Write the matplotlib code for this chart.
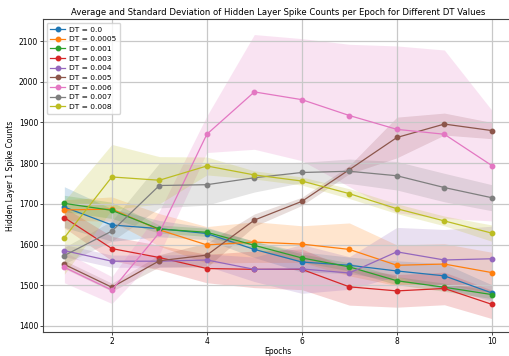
import matplotlib
matplotlib.use("Agg")
import matplotlib.pyplot as plt
import numpy as np

epochs = np.arange(1, 11)
dt_labels = ["0.0", "0.0005", "0.001", "0.003", "0.004", "0.005", "0.006", "0.007", "0.008"]

mean_00 = [1692, 1648, 1639, 1627, 1588, 1557, 1549, 1535, 1523, 1481]
mean_0005 = [1685, 1687, 1636, 1599, 1606, 1601, 1588, 1549, 1552, 1531]
mean_001 = [1701, 1684, 1638, 1630, 1598, 1567, 1545, 1511, 1495, 1477]
mean_003 = [1666, 1590, 1568, 1541, 1539, 1539, 1496, 1486, 1492, 1453]
mean_004 = [1585, 1559, 1559, 1562, 1539, 1540, 1530, 1582, 1562, 1565]
mean_005 = [1551, 1495, 1560, 1574, 1660, 1706, 1784, 1863, 1896, 1880]
mean_006 = [1544, 1488, 1629, 1871, 1975, 1956, 1917, 1883, 1871, 1794]
mean_007 = [1573, 1633, 1745, 1747, 1764, 1777, 1780, 1769, 1740, 1715]
mean_008 = [1617, 1766, 1758, 1793, 1771, 1756, 1725, 1688, 1658, 1628]

std_00 = [50, 40, 20, 15, 20, 25, 20, 25, 30, 20]
std_0005 = [25, 30, 40, 45, 50, 45, 65, 50, 50, 50]
std_001 = [20, 20, 10, 10, 10, 10, 10, 10, 10, 10]
std_003 = [25, 30, 30, 35, 45, 50, 45, 40, 40, 35]
std_004 = [15, 15, 15, 15, 30, 60, 40, 60, 75, 80]
std_005 = [10, 10, 15, 30, 15, 10, 10, 50, 27, 20]
std_006 = [38, 33, 53, 45, 141, 150, 175, 205, 207, 136]
std_007 = [20, 25, 55, 50, 35, 25, 30, 35, 35, 32]
std_008 = [90, 80, 58, 22, 10, 10, 12, 12, 12, 20]

means = [mean_00, mean_0005, mean_001, mean_003, mean_004, mean_005, mean_006, mean_007, mean_008]
stds = [std_00, std_0005, std_001, std_003, std_004, std_005, std_006, std_007, std_008]

fig = plt.figure(figsize=(5.1, 3.56), dpi=100)
ax = fig.add_axes([0.0843, 0.0674, 0.922, 0.879])

for i, (label, m, s) in enumerate(zip(dt_labels, means, stds)):
    m = np.array(m)
    s = np.array(s)
    color = f"C{i}"
    ax.plot(epochs, m, "o-", color=color, linewidth=0.9, markersize=3.2,
            label=f"DT = {label}")
    ax.fill_between(epochs, m - s, m + s, color=color, alpha=0.2, linewidth=0)

ax.set_xlim(0.55, 10.45)
ax.set_ylim(1385, 2154)
ax.set_xticks([2, 4, 6, 8, 10])
ax.set_yticks([1400, 1500, 1600, 1700, 1800, 1900, 2000, 2100])
ax.tick_params(labelsize=5.5, length=2, width=0.5, pad=1.5)
ax.grid(True, color="#c8c8c8", linewidth=0.9)
for spine in ax.spines.values():
    spine.set_color("#444444")
    spine.set_linewidth(0.8)

ax.set_title("Average and Standard Deviation of Hidden Layer Spike Counts per Epoch for Different DT Values",
             fontsize=6.1, pad=3)
ax.set_xlabel("Epochs", fontsize=5.5, labelpad=1)
ax.set_ylabel("Hidden Layer 1 Spike Counts", fontsize=5.5, labelpad=3)
ax.legend(loc="upper left", fontsize=5.4, handlelength=1.9, labelspacing=0.45,
          borderpad=0.5, handletextpad=0.6, framealpha=0.8)

fig.savefig("out.png", dpi=100)
